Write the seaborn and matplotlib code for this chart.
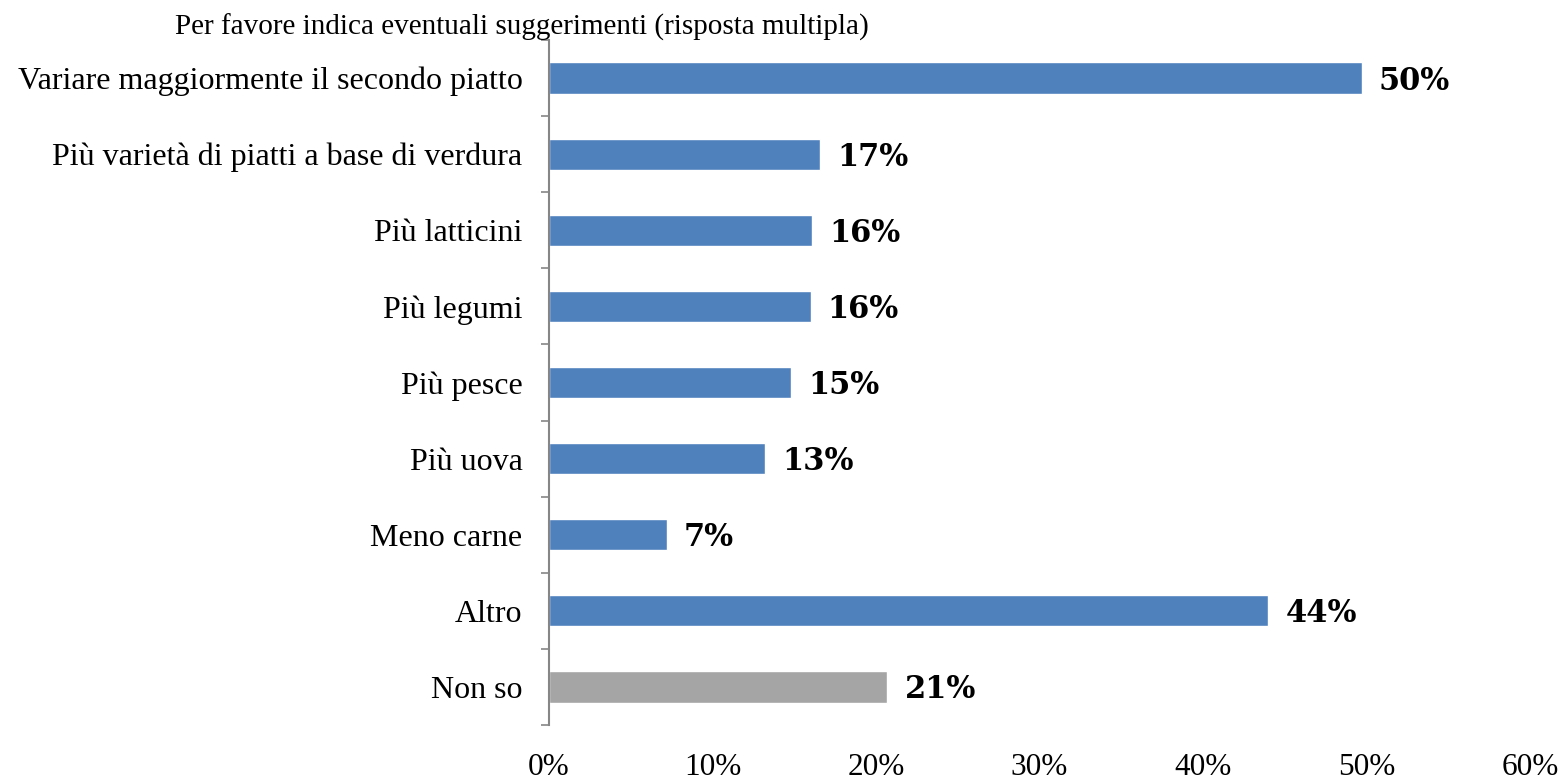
import numpy as np
import pandas as pd
import matplotlib
matplotlib.use('Agg')
import matplotlib.pyplot as plt
import seaborn as sns
from matplotlib.ticker import FuncFormatter

categories = [
    'Variare maggiormente il secondo piatto',
    'Più varietà di piatti a base di verdura',
    'Più latticini',
    'Più legumi',
    'Più pesce',
    'Più uova',
    'Meno carne',
    'Altro',
    'Non so',
]
values = [49.7, 16.6, 16.1, 16.0, 14.8, 13.2, 7.2, 44.0, 20.7]
groups = ['main'] * 8 + ['none']
palette = {'main': '#4F81BD', 'none': '#A5A5A5'}
title = 'Per favore indica eventuali suggerimenti (risposta multipla)'

sns.set_style('white')
plt.rcParams['font.family'] = ['Liberation Serif', 'DejaVu Serif']
plt.rcParams['text.color'] = 'black'
plt.rcParams['xtick.color'] = 'black'
plt.rcParams['ytick.color'] = 'black'

df = pd.DataFrame({'cat': categories, 'val': values, 'grp': groups})

fig = plt.figure(figsize=(15.65, 7.8), dpi=100)
ax = fig.add_axes([0.3508, 0.0705, 0.6268, 0.8782])
sns.barplot(data=df, y='cat', x='val', hue='grp', palette=palette, orient='h',
            width=0.41, dodge=False, legend=False, saturation=1, ax=ax)

ax.set_xlim(0, 60)
ax.set_ylim(len(categories) - 0.5, -0.5)
ax.set_xticks(np.arange(0, 61, 10))
ax.xaxis.set_major_formatter(FuncFormatter(lambda v, p: f'{v:.0f}%'))
ax.tick_params(axis='x', length=0, labelsize=22.5, pad=20, labelcolor='black')
ax.set_yticks(np.arange(len(categories)))
ax.set_yticklabels(categories, fontsize=23)
ax.tick_params(axis='y', which='major', length=0, pad=19, labelcolor='black')
ax.set_yticks(np.arange(-0.5, len(categories)), minor=True)
ax.tick_params(axis='y', which='minor', left=True, length=6, color='#868686', width=1.2)
ax.set_xlabel('')
ax.set_ylabel('')

for s in ['top', 'right', 'bottom']:
    ax.spines[s].set_visible(False)
ax.spines['left'].set_color('#868686')
ax.spines['left'].set_linewidth(1.5)

for i, v in enumerate(values):
    ax.text(v + 1.05, i + 0.04, f'{v:.0f}%', va='center', ha='left', color='black',
            fontsize=22, fontweight='bold', family=['DejaVu Serif'])

fig.text(0.112, 0.965, title, fontsize=21, va='center', ha='left', color='black')

fig.savefig('out.png', dpi=100)
